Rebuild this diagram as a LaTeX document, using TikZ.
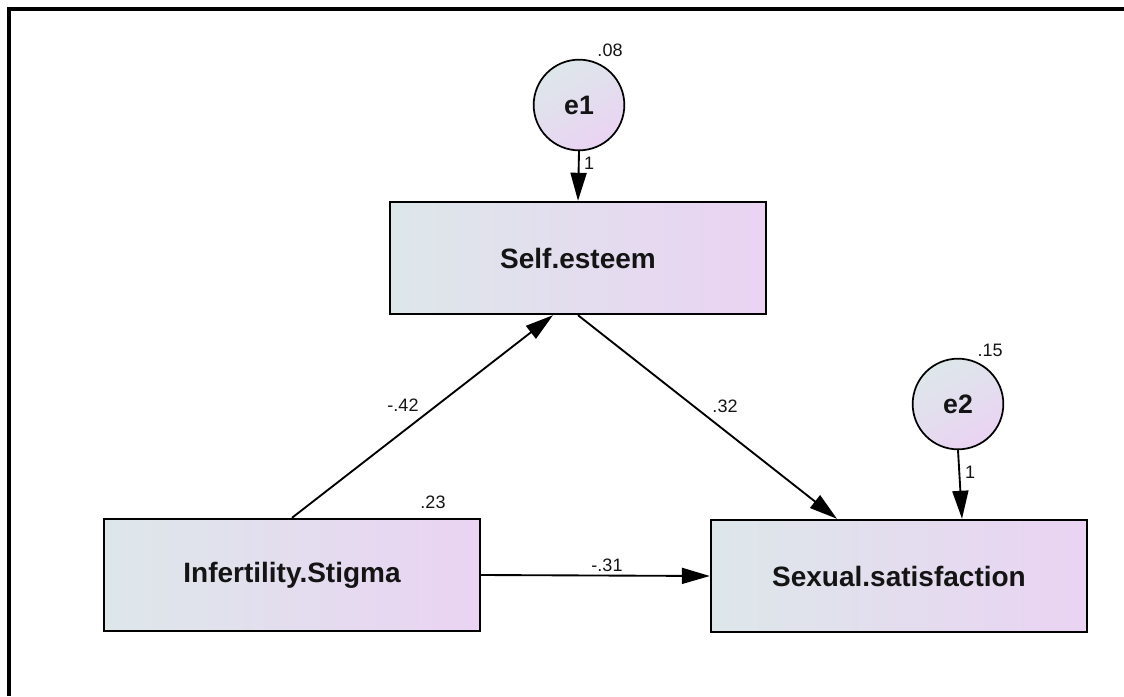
\documentclass[tikz,border=0pt]{standalone}
\usepackage{fontspec}
\setmainfont{Liberation Sans}
\usepackage{tikz}
\usetikzlibrary{arrows.meta,calc}
\definecolor{shadeL}{HTML}{DDE7EA}
\definecolor{shadeR}{HTML}{EAD3F3}
\definecolor{inkdark}{HTML}{141414}
\tikzset{
  varbox/.style={draw=black, line width=1.8pt, left color=shadeL, right color=shadeR,
    minimum width=282pt, minimum height=84pt, font=\fontsize{21}{24}\selectfont\bfseries, text=inkdark},
  errcirc/.style={circle, draw=black, line width=1.3pt, shade, shading=axis, top color=shadeL, bottom color=shadeR,
    shading angle=30, minimum size=68pt, inner sep=0pt, font=\fontsize{20}{24}\selectfont\bfseries, text=inkdark},
  coef/.style={font=\fontsize{13.5}{15}\selectfont, text=inkdark, inner sep=0pt},
  path/.style={line width=1.4pt, -{Triangle[length=21pt,width=12pt]}}
}
\begin{document}
\begin{tikzpicture}[x=0.75pt,y=-0.75pt]
  \useasboundingbox (0,0) rectangle (1124,696);
  % frame
  \draw[line width=3pt] (1124,9) -- (9,9) -- (9,696);

  % variables
  \node[varbox] (self) at (578,258) {Self.esteem};
  \node[varbox] (stig) at (292,575) {Infertility.Stigma};
  \node[varbox] (sex) at (899,576) {Sexual.satisfaction};

  % error terms
  \node[errcirc] (e1) at (579,105) {e1};
  \node[errcirc] (e2) at (958,404) {e2};

  % paths
  \draw[path] (e1.south) -- (self.north);
  \draw[path] (e2.south) -- ($(sex.north)+(63,0)$);
  \draw[path] (stig.north) -- ($(self.south)+(-25,0)$);
  \draw[path] (self.south) -- ($(sex.north)+(-62,0)$);
  \draw[path] (stig.east) -- (sex.west);

  % estimates
  \node[coef] (r1) at (610,50) {.08};
  \node[coef] (r2) at (990,350) {.15};
  \node[coef] (r3) at (433,502) {.23};
  \node[coef] (w1) at (589,163) {1};
  \node[coef] (w2) at (970,472) {1};
  \node[coef] (b1) at (403,405) {-.42};
  \node[coef] (b2) at (725,406) {.32};
  \node[coef] (b3) at (607,565) {-.31};
\end{tikzpicture}
\end{document}
